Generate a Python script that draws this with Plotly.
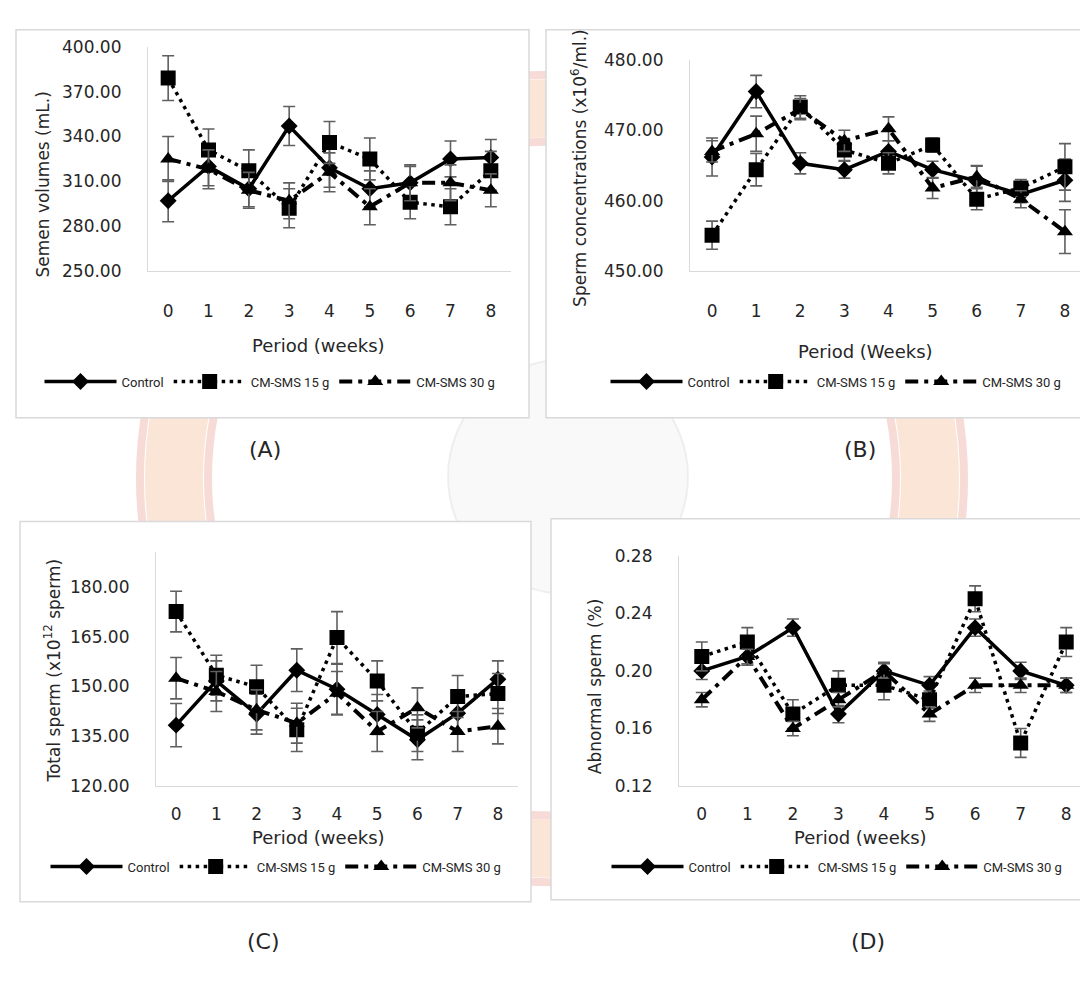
import plotly.graph_objects as go

W, H = 1088, 990

weeks = [0, 1, 2, 3, 4, 5, 6, 7, 8]
series_names = ["Control", "CM-SMS 15 g", "CM-SMS 30 g"]

# (A) Semen volumes (mL.)
vol_control = [297, 320, 305, 347, 319, 305, 309, 325, 326]
vol_15 = [379, 331, 317, 292, 336, 325, 296, 293, 317]
vol_30 = [325, 318, 304, 297, 316, 293, 309, 309, 304]
vol_control_err = [14, 13, 12, 13, 13, 12, 11, 12, 12]
vol_15_err = [15, 14, 14, 13, 14, 14, 11, 12, 13]
vol_30_err = [15, 13, 12, 12, 13, 12, 12, 12, 11]

# (B) Sperm concentrations (x10^6/ml.)
conc_control = [466.2, 475.5, 465.3, 464.4, 467.0, 464.4, 462.8, 460.9, 462.9]
conc_15 = [455.1, 464.4, 473.3, 467.2, 465.3, 467.9, 460.2, 461.8, 464.8]
conc_30 = [467.0, 469.5, 473.0, 468.5, 470.2, 461.8, 463.4, 460.2, 455.6]
conc_control_err = [2.7, 2.3, 1.5, 1.2, 1.5, 1.2, 2.2, 1.2, 3.0]
conc_15_err = [2.0, 2.3, 1.6, 1.5, 1.5, 1.0, 1.5, 1.2, 3.3]
conc_30_err = [1.5, 2.5, 1.5, 1.5, 1.7, 1.5, 1.5, 1.2, 3.1]

# (C) Total sperm (x10^12 sperm)
tot_control = [138.4, 151.7, 141.7, 154.9, 149.2, 141.6, 134.0, 142.0, 152.2]
tot_15 = [172.5, 153.4, 149.9, 137.0, 164.7, 151.7, 136.0, 147.0, 147.9]
tot_30 = [152.5, 148.5, 143.0, 139.0, 148.0, 136.5, 143.6, 136.5, 138.1]
tot_control_err = [6.5, 6.0, 6.0, 6.4, 7.5, 6.0, 6.0, 6.0, 5.5]
tot_15_err = [6.1, 6.0, 6.5, 6.5, 7.8, 6.0, 5.5, 6.3, 6.0]
tot_30_err = [6.2, 6.0, 6.0, 6.0, 6.5, 6.0, 6.0, 6.0, 5.3]

# (D) Abnormal sperm (%)
abn_control = [0.20, 0.21, 0.23, 0.17, 0.20, 0.19, 0.23, 0.20, 0.19]
abn_15 = [0.21, 0.22, 0.17, 0.19, 0.19, 0.18, 0.25, 0.15, 0.22]
abn_30 = [0.18, 0.21, 0.16, 0.18, 0.20, 0.17, 0.19, 0.19, 0.19]
abn_control_err = [0.006, 0.006, 0.006, 0.006, 0.006, 0.006, 0.006, 0.006, 0.005]
abn_15_err = [0.010, 0.010, 0.010, 0.010, 0.010, 0.006, 0.009, 0.010, 0.010]
abn_30_err = [0.005, 0.005, 0.005, 0.005, 0.005, 0.005, 0.005, 0.005, 0.005]

panels = [
    dict(key="A", vals=[vol_control, vol_15, vol_30],
         errs=[vol_control_err, vol_15_err, vol_30_err],
         yrange=[250, 400], ytick=[250, 280, 310, 340, 370, 400], fmt=".2f",
         px_x=(140, 503), px_y=(29.3, 258.3), xstand=24,
         box=(8, 12, 521, 408),
         ytitle="Semen volumes (mL.)", ytitle_pos=(35, 170),
         xtitle="Period (weeks)", xtitle_pos=(310, 334),
         legend_pos=(262, 371), label="(A)", label_pos=(257, 440)),
    dict(key="B", vals=[conc_control, conc_15, conc_30],
         errs=[conc_control_err, conc_15_err, conc_30_err],
         yrange=[450, 480], ytick=[450, 460, 470, 480], fmt=".2f",
         px_x=(682, 1079), px_y=(42.7, 258.3), xstand=24,
         box=(538, 12, 1095, 408),
         ytitle="Sperm concentrations (x10<sup>6</sup>/ml.)", ytitle_pos=(571, 153),
         xtitle="Period (Weeks)", xtitle_pos=(857, 340),
         legend_pos=(828, 371), label="(B)", label_pos=(852, 440)),
    dict(key="C", vals=[tot_control, tot_15, tot_30],
         errs=[tot_control_err, tot_15_err, tot_30_err],
         yrange=[120, 190.4], ytick=[120, 135, 150, 165, 180], fmt=".2f",
         px_x=(148, 510), px_y=(545, 784.3), xstand=12,
         box=(12, 514, 523, 902),
         ytitle="Total sperm (x10<sup>12</sup> sperm)", ytitle_pos=(44, 666),
         xtitle="Period (weeks)", xtitle_pos=(310, 836),
         legend_pos=(268, 866), label="(C)", label_pos=(255, 943)),
    dict(key="D", vals=[abn_control, abn_15, abn_30],
         errs=[abn_control_err, abn_15_err, abn_30_err],
         yrange=[0.12, 0.28], ytick=[0.12, 0.16, 0.20, 0.24, 0.28], fmt=".2f",
         px_x=(671, 1081), px_y=(548.7, 784), xstand=12,
         box=(543, 511, 1095, 900),
         ytitle="Abnormal sperm (%)", ytitle_pos=(587, 682),
         xtitle="Period (weeks)", xtitle_pos=(852, 836),
         legend_pos=(829, 866), label="(D)", label_pos=(860, 943)),
]

styles = [
    dict(symbol="diamond", size=13, line=dict(color="black", width=3.5)),
    dict(symbol="square", size=15, line=dict(color="black", width=3.5, dash="3.5px,4.5px")),
    dict(symbol="triangle-up", size=14, line=dict(color="black", width=4, dash="13px,6px,4px,6px")),
]

TICK_FONT = dict(family="DejaVu Sans", size=17, color="#262626")
TEXT_FONT = dict(family="DejaVu Sans", size=18, color="#262626")
YTITLE_FONT = dict(family="DejaVu Sans", size=17, color="#262626")
LEG_FONT = dict(family="Liberation Sans Narrow, Roboto, sans-serif", size=13, color="#262626")


def circ(cx, cy, r, **kw):
    return dict(type="circle", xref="paper", yref="paper", layer="below",
                x0=(cx - r) / W, x1=(cx + r) / W, y0=1 - (cy + r) / H, y1=1 - (cy - r) / H, **kw)


fig = go.Figure()
layout = dict(
    width=W, height=H, margin=dict(l=0, r=0, t=0, b=0),
    paper_bgcolor="white", plot_bgcolor="rgba(0,0,0,0)",
    showlegend=True, annotations=[],
    shapes=[
        # faint background emblem (watermark)
        circ(544, 470, 378, line=dict(color="rgba(242,160,110,0.28)", width=58), fillcolor="rgba(0,0,0,0)"),
        circ(544, 470, 412, line=dict(color="rgba(214,90,70,0.22)", width=8), fillcolor="rgba(0,0,0,0)"),
        circ(544, 470, 344, line=dict(color="rgba(214,90,70,0.22)", width=8), fillcolor="rgba(0,0,0,0)"),
        circ(560, 468, 120, line=dict(color="rgba(200,200,200,0.25)", width=2), fillcolor="rgba(230,230,230,0.25)"),
    ],
)

for i, p in enumerate(panels):
    n = "" if i == 0 else str(i + 1)
    xa, ya = "x" + n, "y" + n
    leg = "legend" + n
    for s, name in enumerate(series_names):
        st = styles[s]
        fig.add_trace(go.Scatter(
            x=weeks, y=p["vals"][s], name=name, mode="lines+markers",
            xaxis=xa, yaxis=ya, legend=leg,
            line=st["line"],
            marker=dict(symbol=st["symbol"], size=st["size"], color="black"),
            error_y=dict(type="data", array=p["errs"][s], visible=True,
                         color="#5f5f5f", thickness=1.6, width=6),
        ))
    x0, x1 = p["px_x"]
    yt, yb = p["px_y"]
    layout["xaxis" + n] = dict(
        domain=[x0 / W, x1 / W], anchor=ya, range=[-0.5, 8.5],
        tickmode="array", tickvals=weeks, ticktext=[str(w) for w in weeks],
        showline=True, linecolor="#d9d9d9", linewidth=1.2, showgrid=False,
        zeroline=False, ticks="", ticklabelstandoff=p["xstand"], tickfont=TICK_FONT,
        fixedrange=True,
    )
    layout["yaxis" + n] = dict(
        domain=[1 - yb / H, 1 - yt / H], anchor=xa, range=p["yrange"],
        tickmode="array", tickvals=p["ytick"], tickformat=p["fmt"],
        showline=True, linecolor="#d9d9d9", linewidth=1.2, showgrid=False,
        zeroline=False, ticks="", ticklabelstandoff=22, tickfont=TICK_FONT,
        fixedrange=True,
    )
    lx, ly = p["legend_pos"]
    layout[leg] = dict(
        orientation="h", x=lx / W, y=1 - ly / H, xanchor="center", yanchor="middle",
        font=LEG_FONT, bgcolor="rgba(0,0,0,0)", itemwidth=72, tracegroupgap=0,
        itemclick=False, itemdoubleclick=False,
    )
    bx0, by0, bx1, by1 = p["box"]
    layout["shapes"].append(dict(
        type="rect", xref="paper", yref="paper", layer="below",
        x0=bx0 / W, x1=bx1 / W, y0=1 - by1 / H, y1=1 - by0 / H,
        line=dict(color="#d9d9d9", width=1.5), fillcolor="white",
    ))
    tx, ty = p["ytitle_pos"]
    layout["annotations"].append(dict(
        text=p["ytitle"], x=tx / W, y=1 - ty / H, xref="paper", yref="paper",
        showarrow=False, textangle=-90, font=YTITLE_FONT,
        xanchor="center", yanchor="middle",
    ))
    tx, ty = p["xtitle_pos"]
    layout["annotations"].append(dict(
        text=p["xtitle"], x=tx / W, y=1 - ty / H, xref="paper", yref="paper",
        showarrow=False, font=TEXT_FONT, xanchor="center", yanchor="middle",
    ))
    tx, ty = p["label_pos"]
    layout["annotations"].append(dict(
        text=p["label"], x=tx / W, y=1 - ty / H, xref="paper", yref="paper",
        showarrow=False, font=dict(family="DejaVu Sans", size=22, color="#262626"),
        xanchor="center", yanchor="middle",
    ))

fig.update_layout(**layout)
fig.write_html("out.html")
